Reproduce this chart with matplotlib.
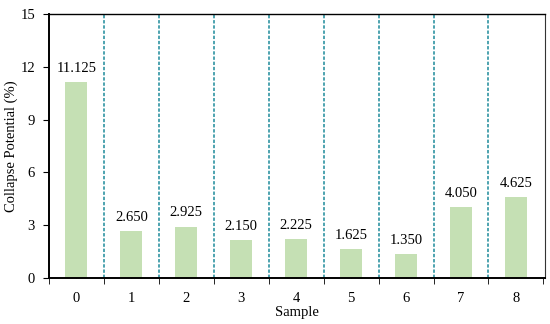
import matplotlib
matplotlib.use("Agg")
import matplotlib.pyplot as plt
import numpy as np

samples = [0, 1, 2, 3, 4, 5, 6, 7, 8]
collapse = [11.125, 2.650, 2.925, 2.150, 2.225, 1.625, 1.350, 4.050, 4.625]
value_labels = ["11.125", "2.650", "2.925", "2.150", "2.225", "1.625", "1.350", "4.050", "4.625"]
y_ticks = [0, 3, 6, 9, 12, 15]

plt.rcParams["font.family"] = ["Liberation Serif", "DejaVu Serif"]

fig = plt.figure(figsize=(5.5, 3.24), dpi=100)
ax = fig.add_axes([0.089, 0.142, 0.902, 0.815])

x = np.array(samples)
ax.bar(x, collapse, width=0.4, color="#c5e0b4", zorder=2)
for xi, v, lab in zip(x, collapse, value_labels):
    ax.text(xi, v + 0.4, lab, ha="center", va="bottom", fontsize=10.5)

for b in x[:-1] + 0.5:
    ax.axvline(b, color="#1c8a9a", lw=1.1, ls=(0, (2.2, 1.2)), zorder=1)

ax.set_xlim(-0.49, 8.53)
ax.set_ylim(0, 15)
ax.set_yticks(y_ticks)
ax.set_xticks(x)
ax.set_xticks(np.arange(-0.5, 9.0, 1.0), minor=True)
ax.tick_params(axis="x", which="major", direction="in", length=2, labelsize=10.5, pad=10)
ax.tick_params(axis="x", which="minor", direction="out", length=4)
ax.tick_params(axis="y", direction="out", length=4, labelsize=10.5, pad=6)

for side in ("left", "bottom"):
    ax.spines[side].set_linewidth(1.4)
ax.spines["top"].set_linewidth(1.0)
ax.spines["right"].set_linewidth(0.8)
ax.spines["right"].set_color("#333333")

ax.set_ylabel("Collapse Potential (%)", fontsize=10.5, labelpad=2)
ax.set_xlabel("Sample", fontsize=10.5, labelpad=1)

fig.savefig("out.png", dpi=100)
